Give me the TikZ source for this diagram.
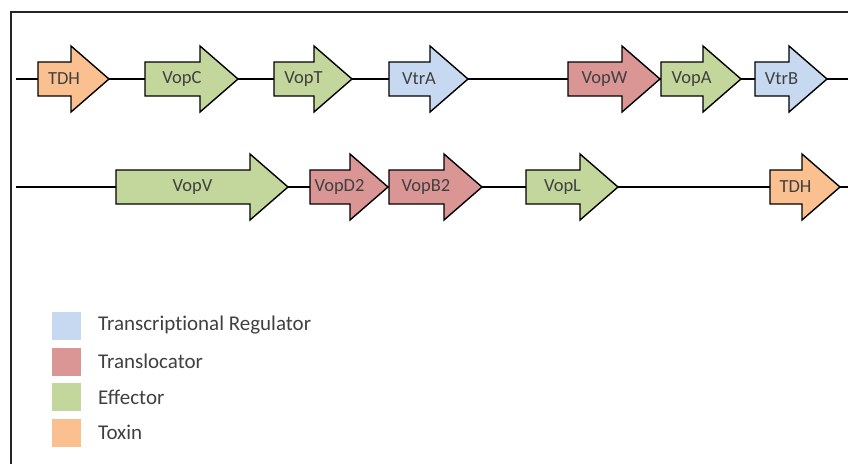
\documentclass[tikz,border=0pt]{standalone}
\usepackage{fontspec}
\setmainfont{Carlito}[Ligatures={NoCommon}]
\definecolor{regulator}{HTML}{C6D9F1}
\definecolor{translocator}{HTML}{D99694}
\definecolor{effector}{HTML}{C3D69B}
\definecolor{toxin}{HTML}{FAC090}
\definecolor{inktext}{HTML}{404040}
% name, start, tip, row, colour, label
\newcommand{\genearrow}[6]{%
	\draw[gene,fill=#5] (#2,#4-17)--(#3-38,#4-17)--(#3-38,#4-33)--(#3,#4)--(#3-38,#4+33)--(#3-38,#4+17)--(#2,#4+17)--cycle;
	\node[genelabel] (#1) at ({(#2+#3)/2-9.5},#4) {#6};}
\begin{document}
\begin{tikzpicture}[x=1pt,y=-1pt,
	gene/.style={draw=black,line width=1.4pt,line join=miter},
	genelabel/.style={text=inktext,font=\fontsize{18.5}{22}\selectfont,inner sep=0pt},
	backbone/.style={line width=1.7pt},
	legbox/.style={minimum width=29pt,minimum height=28pt,inner sep=0pt},
	legtext/.style={anchor=west,text=inktext,font=\fontsize{21}{25}\selectfont,inner sep=0pt}]
	\useasboundingbox (0,0) rectangle (848,464);
	\draw[line width=2.2pt,color=black!85] (848,12) -| (11,464);
	% first row
	\draw[backbone] (16,79)--(848,79);
	\genearrow{tdhA}{38}{109}{79}{toxin}{TDH}
	\genearrow{vopC}{145}{238}{79}{effector}{VopC}
	\genearrow{vopT}{274}{352}{79}{effector}{VopT}
	\genearrow{vtrA}{389}{468}{79}{regulator}{VtrA}
	\genearrow{vopW}{568}{660}{79}{translocator}{VopW}
	\genearrow{vopA}{661}{741}{79}{effector}{VopA}
	\genearrow{vtrB}{755}{827}{79}{regulator}{VtrB}
	% second row
	\draw[backbone] (16,187)--(848,187);
	\genearrow{vopV}{116}{288}{187}{effector}{VopV}
	\genearrow{vopD}{310}{388}{187}{translocator}{VopD2}
	\genearrow{vopB}{389}{482}{187}{translocator}{VopB2}
	\genearrow{vopL}{526}{618}{187}{effector}{VopL}
	\genearrow{tdhB}{770}{840}{187}{toxin}{TDH}
	% legend
	\node[legbox,fill=regulator] (kreg) at (66.5,325.5) {};
	\node[legbox,fill=translocator] (ktrans) at (66.5,361.5) {};
	\node[legbox,fill=effector] (keff) at (66.5,397) {};
	\node[legbox,fill=toxin] (ktox) at (66.5,432.5) {};
	\node[legtext] (treg) at (98,325.5) {Transcriptional Regulator};
	\node[legtext] (ttrans) at (98,361.5) {Translocator};
	\node[legtext] (teff) at (98,397) {Effector};
	\node[legtext] (ttox) at (98,432.5) {Toxin};
\end{tikzpicture}
\end{document}
